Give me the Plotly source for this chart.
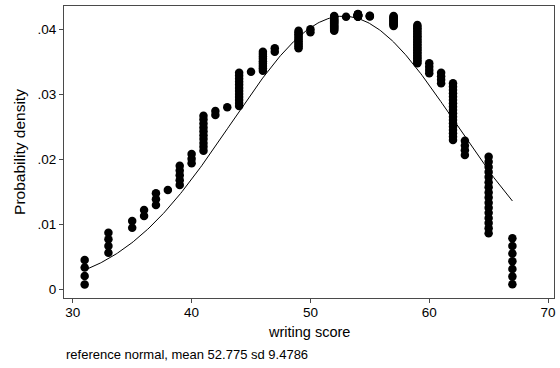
import numpy as np
import plotly.graph_objects as go

# Writing score values and the density estimate for each observation at that score
score_levels = [31, 33, 35, 36, 37, 38, 39, 40, 41, 42, 43, 44, 45, 46, 47,
                49, 50, 52, 53, 54, 55, 57, 59, 60, 61, 62, 63, 65, 67]

dot_density = [
    [0.00457, 0.00342, 0.00211, 0.00080],
    [0.00877, 0.00775, 0.00672, 0.00569],
    [0.01057, 0.00954],
    [0.01226, 0.01134],
    [0.01483, 0.01391, 0.01303],
    [0.01534],
    [0.01908, 0.01834, 0.01760, 0.01685, 0.01611],
    [0.02088, 0.02015, 0.01945],
    [0.02677, 0.02617, 0.02557, 0.02497, 0.02437, 0.02378, 0.02318, 0.02258, 0.02198, 0.02138],
    [0.02749, 0.02688],
    [0.02806],
    [0.03338, 0.03291, 0.03245, 0.03198, 0.03152, 0.03105, 0.03059, 0.03012, 0.02966, 0.02919,
     0.02873, 0.02826],
    [0.03354],
    [0.03662, 0.03625, 0.03589, 0.03552, 0.03516, 0.03479, 0.03442, 0.03406, 0.03369],
    [0.03714, 0.03662],
    [0.03985, 0.03958, 0.03931, 0.03904, 0.03877, 0.03850, 0.03822, 0.03795, 0.03768, 0.03741,
     0.03714],
    [0.04006, 0.03960],
    [0.04211, 0.04195, 0.04179, 0.04163, 0.04147, 0.04131, 0.04114, 0.04098, 0.04082, 0.04066,
     0.04050, 0.04034, 0.04017, 0.04001, 0.03985],
    [0.04200],
    [0.04240, 0.04238, 0.04235, 0.04233, 0.04230, 0.04228, 0.04225, 0.04223, 0.04220, 0.04218,
     0.04215, 0.04213, 0.04210, 0.04208, 0.04205, 0.04203, 0.04200],
    [0.04215, 0.04210, 0.04205],
    [0.04211, 0.04197, 0.04183, 0.04169, 0.04155, 0.04141, 0.04127, 0.04113, 0.04099, 0.04085,
     0.04071, 0.04057],
    [0.04072, 0.04047, 0.04023, 0.03998, 0.03973, 0.03949, 0.03924, 0.03900, 0.03875, 0.03851,
     0.03826, 0.03802, 0.03777, 0.03753, 0.03728, 0.03704, 0.03679, 0.03655, 0.03630, 0.03605,
     0.03581, 0.03556, 0.03532, 0.03507, 0.03483],
    [0.03483, 0.03432, 0.03380, 0.03329],
    [0.03338, 0.03284, 0.03229, 0.03175],
    [0.03175, 0.03124, 0.03072, 0.03021, 0.02970, 0.02918, 0.02867, 0.02816, 0.02765, 0.02713,
     0.02662, 0.02611, 0.02559, 0.02508, 0.02457, 0.02406, 0.02354, 0.02303],
    [0.02292, 0.02219, 0.02145, 0.02072],
    [0.02046, 0.01967, 0.01889, 0.01810, 0.01732, 0.01653, 0.01575, 0.01496, 0.01418, 0.01339,
     0.01261, 0.01182, 0.01104, 0.01025, 0.00947, 0.00868],
    [0.00791, 0.00673, 0.00555, 0.00437, 0.00319, 0.00201, 0.00083],
]

# Reference normal distribution parameters
ref_mean = 52.775
ref_sd = 9.4786

x_ticks = [30, 40, 50, 60, 70]
y_ticks = [0, 0.01, 0.02, 0.03, 0.04]
y_tick_text = ["0", ".01", ".02", ".03", ".04"]

xs, ys = [], []
for s, vals in zip(score_levels, dot_density):
    xs.extend([s] * len(vals))
    ys.extend(vals)

grid = np.linspace(min(score_levels), max(score_levels), 300)
normal_pdf = np.exp(-0.5 * ((grid - ref_mean) / ref_sd) ** 2) / (ref_sd * np.sqrt(2 * np.pi))

FONT = "Liberation Sans, Arial, Helvetica, sans-serif"
AXIS_COL = "#4a4a4a"

fig = go.Figure()
fig.add_trace(go.Scatter(
    x=grid, y=normal_pdf, mode="lines",
    line=dict(color="black", width=1), hoverinfo="skip", showlegend=False,
))
fig.add_trace(go.Scatter(
    x=xs, y=ys, mode="markers",
    marker=dict(color="black", size=8.5, line=dict(width=0)),
    showlegend=False,
))

fig.update_layout(
    width=560, height=368,
    margin=dict(l=64, r=4, t=6, b=70),
    paper_bgcolor="white", plot_bgcolor="white",
    font=dict(family=FONT, size=14, color="black"),
    xaxis=dict(
        range=[29.26, 70.5], tickvals=x_ticks, ticks="outside", ticklen=4,
        tickcolor=AXIS_COL, showline=True, linecolor=AXIS_COL, linewidth=1.2,
        mirror=True, showgrid=False, zeroline=False,
        tickfont=dict(size=13.5), ticklabelstandoff=-2,
    ),
    yaxis=dict(
        range=[-0.00128, 0.04365], tickvals=y_ticks, ticktext=y_tick_text,
        ticks="outside", ticklen=4, tickcolor=AXIS_COL, showline=True,
        linecolor=AXIS_COL, linewidth=1.2, mirror=True, showgrid=False,
        zeroline=False, tickfont=dict(size=13.5),
        title=dict(text="Probability density", font=dict(size=15.5), standoff=7),
    ),
    annotations=[
        dict(text="writing score", xref="paper", yref="paper", x=0.5, y=-0.116,
             xanchor="center", yanchor="middle", showarrow=False,
             font=dict(size=14.5)),
        dict(text="reference normal, mean 52.775 sd 9.4786", xref="paper", yref="paper",
             x=0.0, y=-0.195, xanchor="left", yanchor="middle", showarrow=False,
             font=dict(size=13)),
    ],
)

fig.write_html("out.html")
